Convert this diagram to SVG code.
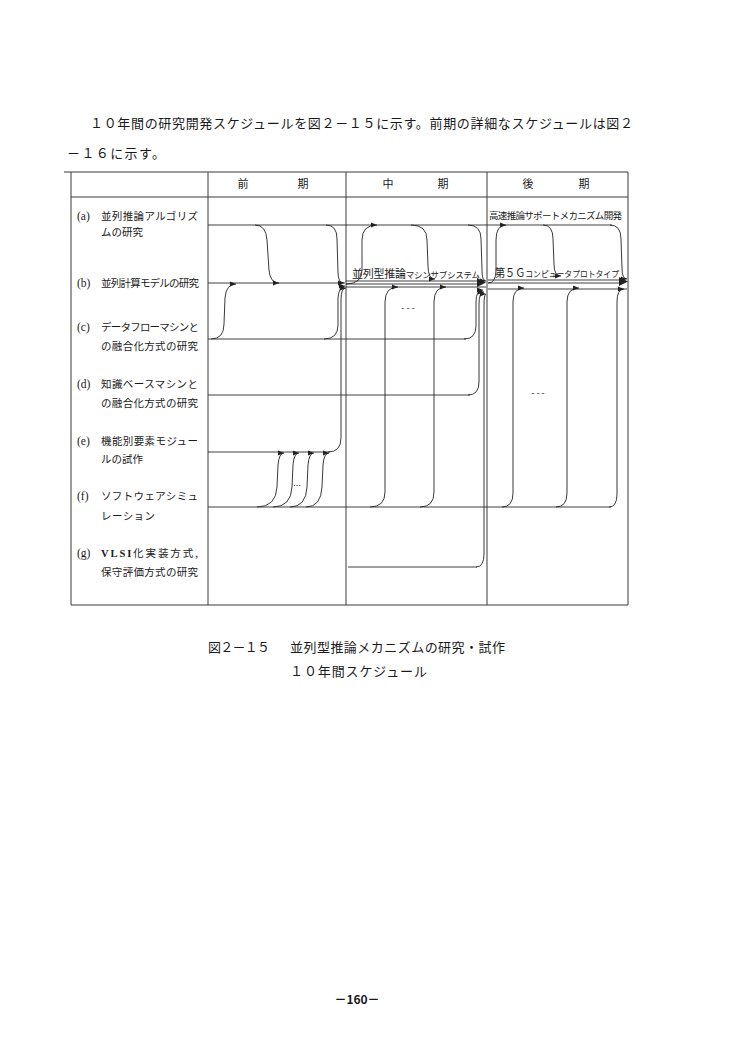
<svg xmlns="http://www.w3.org/2000/svg" width="750" height="1054" viewBox="0 0 750 1054">
<style>
.jp{font-family:'Noto Sans CJK JP','Noto Sans',sans-serif;fill:#1a1a1a}
.lab{font-size:10.5px}
.ser{font-family:'Liberation Serif',serif;fill:#1a1a1a;font-size:11.5px}
.grid{stroke:#3a3a3a;stroke-width:1;fill:none}
.row{stroke:#2a2a2a;stroke-width:0.9;fill:none}
.cv{stroke:#222;stroke-width:0.9;fill:none;marker-end:url(#ah)}
</style>
<defs>
<marker id="ah" markerUnits="userSpaceOnUse" markerWidth="7" markerHeight="6" refX="6" refY="3" orient="auto">
<path d="M0,0.5 L6,3 L0,5.5 z" fill="#222"/>
</marker>
</defs>
<rect width="750" height="1054" fill="#ffffff"/>

<g id="intro">
<text class="jp" x="90" y="128" font-size="13" textLength="543" lengthAdjust="spacing">１０年間の研究開発スケジュールを図２－１５に示す。前期の詳細なスケジュールは図２</text>
<text class="jp" x="67" y="158" font-size="13" textLength="98" lengthAdjust="spacing">－１６に示す。</text>
</g>

<g id="table">
<line class="grid" x1="64" y1="172" x2="628" y2="172"/>
<line class="grid" x1="71" y1="172" x2="71" y2="605"/>
<line class="grid" x1="628" y1="172" x2="628" y2="605"/>
<line class="grid" x1="71" y1="605" x2="628" y2="605"/>
<line class="grid" x1="71" y1="197" x2="628" y2="197"/>
<line class="grid" x1="208" y1="172" x2="208" y2="605"/>
<line class="grid" x1="346" y1="172" x2="346" y2="605"/>
<line class="grid" x1="487" y1="172" x2="487" y2="605"/>
</g>

<g id="header">
<text class="jp" x="243" y="188" font-size="11" text-anchor="middle">前</text>
<text class="jp" x="303" y="188" font-size="11" text-anchor="middle">期</text>
<text class="jp" x="388" y="188" font-size="11" text-anchor="middle">中</text>
<text class="jp" x="443" y="188" font-size="11" text-anchor="middle">期</text>
<text class="jp" x="528" y="188" font-size="11" text-anchor="middle">後</text>
<text class="jp" x="584" y="188" font-size="11" text-anchor="middle">期</text>
</g>

<g id="row-a">
<text class="ser" x="77" y="220">(a)</text>
<text class="jp lab" x="101" y="220" textLength="97" lengthAdjust="spacing">並列推論アルゴリズ</text>
<text class="jp lab" x="101" y="236">ムの研究</text>
</g>
<g id="row-b">
<text class="ser" x="77" y="287">(b)</text>
<text class="jp lab" x="101" y="287" textLength="98" lengthAdjust="spacing">並列計算モデルの研究</text>
</g>
<g id="row-c">
<text class="ser" x="77" y="331">(c)</text>
<text class="jp lab" x="101" y="331" textLength="98" lengthAdjust="spacing">データフローマシンと</text>
<text class="jp lab" x="101" y="350" textLength="97" lengthAdjust="spacing">の融合化方式の研究</text>
</g>
<g id="row-d">
<text class="ser" x="77" y="388">(d)</text>
<text class="jp lab" x="101" y="388" textLength="97" lengthAdjust="spacing">知識ベースマシンと</text>
<text class="jp lab" x="101" y="407" textLength="97" lengthAdjust="spacing">の融合化方式の研究</text>
</g>
<g id="row-e">
<text class="ser" x="77" y="445">(e)</text>
<text class="jp lab" x="101" y="445" textLength="97" lengthAdjust="spacing">機能別要素モジュー</text>
<text class="jp lab" x="101" y="463">ルの試作</text>
</g>
<g id="row-f">
<text class="ser" x="77" y="500">(f)</text>
<text class="jp lab" x="101" y="500" textLength="97" lengthAdjust="spacing">ソフトウェアシミュ</text>
<text class="jp lab" x="101" y="520" textLength="54" lengthAdjust="spacing">レーション</text>
</g>
<g id="row-g">
<text class="ser" x="77" y="557">(g)</text>
<text class="jp lab" x="101" y="557" textLength="97" lengthAdjust="spacing"><tspan font-family="'Liberation Serif',serif" font-weight="bold">VLSI</tspan>化実装方式,</text>
<text class="jp lab" x="101" y="576" textLength="97" lengthAdjust="spacing">保守評価方式の研究</text>
</g>

<g id="bar-labels">
<text class="jp" x="489" y="219" font-size="9.5" textLength="133" lengthAdjust="spacing">高速推論サポートメカニズム開発</text>
<text class="jp" x="352" y="278" textLength="128" lengthAdjust="spacing"><tspan font-size="11">並列型推論</tspan><tspan font-size="8.5">マシンサブシステム</tspan></text>
<text class="jp" x="495" y="277" textLength="124" lengthAdjust="spacingAndGlyphs"><tspan font-size="11">第５Ｇ</tspan><tspan font-size="8.5">コンピュータプロトタイプ</tspan></text>
<text class="jp" x="297" y="489" font-size="8" text-anchor="middle">…</text>
<text class="jp" x="408" y="311" font-size="9" text-anchor="middle">- - -</text>
<text class="jp" x="538" y="396" font-size="9" text-anchor="middle">- - -</text>
</g>

<g id="connectors">
<path class="row" d="M208,225 H612"/>
<path class="row" d="M208,283 H345"/>
<path class="row" d="M346,281 H480 M346,284 H480 M346,287 H486"/>
<path d="M477,278 L486,282.5 L477,287 z" fill="#222"/>
<path class="row" d="M488,280 H620 M488,283 H620 M488,289 H627"/>
<path d="M619,277 L628,281.5 L619,286 z" fill="#222"/>
<path class="row" d="M208,339 H466"/>
<path class="row" d="M208,395 H470"/>
<path class="row" d="M208,452 H330"/>
<path class="row" d="M208,507 H611"/>
<path class="row" d="M348,567 H477"/>
<!-- early period -->
<path class="cv" d="M255,225 Q266,225 267,240 L269,270 Q270,283 279,283"/>
<path class="cv" d="M326,225 Q337,225 337,239 L338,272 Q338,283 344,283"/>
<path class="cv" d="M211,339 Q224,339 224,324 L225,298 Q226,284 236,284"/>
<path class="cv" d="M324,339 Q338,339 338,325 L338,298 Q339,286 345,286"/>
<path class="cv" d="M328,452 Q341,452 341,438 L341,300 Q341,288 346,288"/>
<path class="cv" d="M257,507 Q276,507 277,487 L278,465 Q279,453 284,453"/>
<path class="cv" d="M273,507 Q291,507 292,487 L293,465 Q294,453 299,453"/>
<path class="cv" d="M290,507 Q306,507 307,487 L308,465 Q309,453 314,453"/>
<path class="cv" d="M306,507 Q321,507 322,487 L323,465 Q324,453 329,453"/>
<!-- middle period -->
<path class="cv" d="M346,284 Q362,284 362,270 L362,240 Q362,225 377,225"/>
<path class="cv" d="M411,225 Q427,225 427,240 L428,266 Q428,279 435,279"/>
<path class="cv" d="M468,225 Q481,225 481,239 L482,270 Q482,281 486,281"/>
<path class="cv" d="M370,507 Q385,507 385,492 L385,302 Q385,287 398,287"/>
<path class="cv" d="M420,507 Q434,507 434,492 L434,302 Q434,287 446,287"/>
<path class="cv" d="M464,339 Q476,339 476,326 L476,302 Q476,290 483,290"/>
<path class="cv" d="M468,395 Q479,395 479,382 L479,304 Q479,292 484,292"/>
<path class="cv" d="M476,567 Q484,567 484,554 L484,306 Q484,294 486,294"/>
<!-- late period -->
<path class="cv" d="M488,283 Q496,283 496,270 L496,240 Q496,225 506,225"/>
<path class="cv" d="M543,225 Q553,225 553,239 L554,264 Q554,276 561,276"/>
<path class="cv" d="M610,225 Q621,225 621,239 L622,268 Q622,279 627,279"/>
<path class="cv" d="M502,507 Q513,507 513,493 L513,302 Q513,288 524,288"/>
<path class="cv" d="M556,507 Q567,507 567,493 L567,302 Q567,288 579,288"/>
<path class="cv" d="M609,507 Q617,507 617,494 L617,302 Q617,289 624,289"/>
</g>

<g id="caption">
<text class="jp" x="208" y="652" font-size="13" textLength="62" lengthAdjust="spacing">図２－１５</text>
<text class="jp" x="290" y="652" font-size="13" textLength="215" lengthAdjust="spacing">並列型推論メカニズムの研究・試作</text>
<text class="jp" x="290" y="676" font-size="13" textLength="137" lengthAdjust="spacing">１０年間スケジュール</text>
</g>

<g id="page-number">
<text class="jp" x="357" y="1004" font-size="12" font-weight="bold" text-anchor="middle">－160－</text>
</g>
</svg>
